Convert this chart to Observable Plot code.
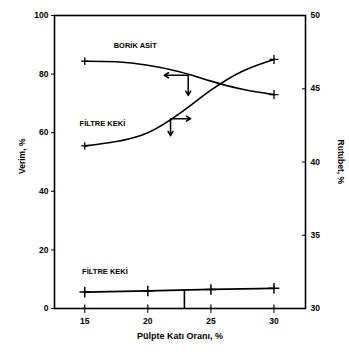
<!DOCTYPE html>
<html><head><meta charset="utf-8">
<script src="https://cdn.jsdelivr.net/npm/d3@7"></script>
<script src="https://cdn.jsdelivr.net/npm/@observablehq/plot@0.6"></script>
<style>body{margin:0;background:#fff}</style>
</head><body><div id="c"></div>
<script>
const solids = [15, 17.5, 20, 22.5, 25, 27.5, 30];
const boricYield = [84.4, 84.2, 83.0, 80.8, 77.6, 74.8, 73.0];       // Verim, % (left)
const cakeMoisture = [41.1, 41.4, 42.0, 43.3, 44.9, 46.2, 47.0];     // Rutubet, % (right)
const cakeSolids = [15, 20, 25, 30];
const cakeLoss = [5.6, 6.0, 6.5, 6.9];                               // Verim, % (left)
const xTicks = [15, 20, 25, 30];
const leftTicks = [0, 20, 40, 60, 80, 100];
const rightTicks = [30, 35, 40, 45, 50];
const labels = [
  {x: 19.0, y: 89.8, text: "BORİK ASİT"},
  {x: 16.4, y: 63.0, text: "FİLTRE KEKİ"},
  {x: 16.6, y: 12.6, text: "FİLTRE KEKİ"}
];
// reading arrows (data coords: x = solids %, y = left-scale %)
const arrows = [
  {x1: 23.2, y1: 79.6, x2: 21.3, y2: 79.6},
  {x1: 23.2, y1: 79.6, x2: 23.2, y2: 72.7},
  {x1: 21.8, y1: 64.8, x2: 23.4, y2: 64.8},
  {x1: 21.8, y1: 64.8, x2: 21.8, y2: 59.0}
];
const guide = [{x: 22.9, y1: 0, y2: 6.25}];

const toLeft = v => (v - 30) * 5;
const boric = solids.map((s, i) => ({x: s, y: boricYield[i]}));
const moist = solids.map((s, i) => ({x: s, y: toLeft(cakeMoisture[i])}));
const loss = cakeSolids.map((s, i) => ({x: s, y: cakeLoss[i]}));

const font = "'Liberation Sans', Arial, sans-serif";
const plot = Plot.plot({
  width: 349, height: 355,
  marginLeft: 54, marginRight: 44, marginTop: 15, marginBottom: 47,
  style: {fontFamily: font, fontSize: "8px", fontWeight: "bold", color: "#000", background: "#fff"},
  x: {domain: [12.6, 32.5]},
  y: {domain: [0, 100]},
  marks: [
    Plot.frame({stroke: "#000", strokeWidth: 1.6}),
    Plot.axisX({ticks: xTicks, tickSize: 5, tickPadding: 4, label: null, fontWeight: "bold", fontSize: 8.5}),
    Plot.ruleX(xTicks, {x: d => d, y1: 0, y2: 1.2, stroke: "#000", strokeWidth: 1.2}),
    Plot.axisY({ticks: leftTicks, tickSize: 3, tickPadding: 3, label: null, fontWeight: "bold", fontSize: 8.5}),
    Plot.axisY({anchor: "right", ticks: rightTicks.map(toLeft), tickFormat: d => d / 5 + 30, tickSize: -4, tickPadding: 9, label: null, fontWeight: "bold", fontSize: 8.5}),
    Plot.line(boric, {x: "x", y: "y", curve: "natural", stroke: "#000", strokeWidth: 1.6}),
    Plot.line(moist, {x: "x", y: "y", curve: "natural", stroke: "#000", strokeWidth: 1.6}),
    Plot.line(loss, {x: "x", y: "y", stroke: "#000", strokeWidth: 1.8}),
    Plot.dot(loss, {x: "x", y: "y", symbol: "plus", r: 3.5, stroke: "#000", strokeWidth: 1.5}),
    Plot.dot([boric[6], moist[6]], {x: "x", y: "y", symbol: "plus", r: 3, stroke: "#000", strokeWidth: 1.3}),
    Plot.dot([boric[0], moist[0]], {x: "x", y: "y", symbol: "plus", r: 2.5, stroke: "#000", strokeWidth: 1.3}),
    Plot.ruleX(guide, {x: "x", y1: "y1", y2: "y2", stroke: "#000", strokeWidth: 1.6}),
    Plot.arrow(arrows, {x1: "x1", y1: "y1", x2: "x2", y2: "y2", stroke: "#000", strokeWidth: 1.5, headLength: 5, bend: 0}),
    Plot.text(labels, {x: "x", y: "y", text: "text", fontSize: 7.5, fontWeight: "bold", fill: "#000"}),
    Plot.text(["Verim, %"], {frameAnchor: "left", dx: -32, dy: 12, rotate: -90, fontSize: 8.5, fontWeight: "bold", fill: "#000"}),
    Plot.text(["Rutubet, %"], {frameAnchor: "right", dx: 35, dy: 22, rotate: 90, fontSize: 8.5, fontWeight: "bold", fill: "#000"}),
    Plot.text(["Pülpte Katı Oranı, %"], {frameAnchor: "bottom", dy: 30, fontSize: 9, fontWeight: "bold", fill: "#000"})
  ]
});
document.getElementById("c").appendChild(plot);
</script>
</body></html>
